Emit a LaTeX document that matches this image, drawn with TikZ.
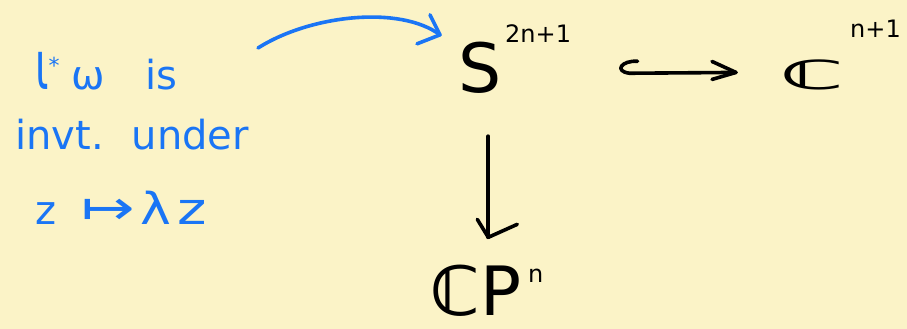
\documentclass[tikz,border=0pt]{standalone}
\usepackage{fontspec}
\usepackage{graphicx}
\setmainfont{DejaVu Sans}
\definecolor{paper}{RGB}{251,243,199}
\definecolor{ink}{RGB}{26,117,245}
\begin{document}
\begin{tikzpicture}[x=1pt,y=1pt,
  big/.style={font=\fontsize{68}{68}\selectfont, inner sep=0pt, anchor=base west},
  sup/.style={font=\fontsize{24}{24}\selectfont, inner sep=0pt, anchor=base west},
  note/.style={font=\fontsize{40}{40}\selectfont, text=ink, inner sep=0pt, anchor=base west},
  blk/.style={line width=3.6pt, line cap=round, line join=round},
  blu/.style={line width=3.6pt, draw=ink, line cap=round, line join=round}]
\fill[paper] (0,0) rectangle (907,329);
\useasboundingbox (0,0) rectangle (907,329);
% black diagram
\node[big] (S) at (458,236) {S};
\node[sup] (Ssup) at (505,286) {2n+1};
\node[big, font=\fontsize{50}{50}\selectfont\bfseries] (Cr) at (780,239) {\scalebox{1.75}[0.8]{ℂ}};
\node[sup] (Crsup) at (850,291) {n+1};
\node[big] (CP) at (430,13) {{\bfseries ℂ}P};
\node[sup] (CPsup) at (528,46) {n};
% blue note
\node[note] (t1) at (35,239) {\scalebox{1}[1.7]{ι}\raisebox{16pt}{\fontsize{22}{22}\selectfont *}\hspace{12pt}ω\hspace{40pt}is};
\node[note] (t2) at (15,179) {invt.\hspace{28pt}under};
\node[note] (t3) at (35,104) {z\hspace{25pt}\scalebox{1.6}[1.2]{↦}\hspace{6pt}\scalebox{1.3}[1.1]{λ}\hspace{6pt}\scalebox{1.4}[1.1]{z}};
% hook arrow S -> C^{n+1}
\coordinate (h0) at ([xshift=136pt,yshift=7pt]S.east);
\coordinate (h1) at ([xshift=-44pt,yshift=3pt]Cr.west);
\draw[blk] (h0) .. controls +(-16,1) and +(-16,2) .. ([xshift=-8pt,yshift=-12pt]h0) -- (h1);
\draw[blk] (h1) ++(-24,11) -- (h1) -- ++(-24,-7);
% down arrow S -> CP^n
\coordinate (d0) at ([xshift=8.5pt,yshift=-42pt]S.south);
\path (d0 |- CP.north) ++(0,28) coordinate (d1);
\draw[blk] (d0) -- (d1);
\draw[blk] (d1) ++(-11,18) -- (d1) -- ++(29,13);
% blue curved arrow note -> S
\coordinate (b0) at (258,281);
\coordinate (b1) at ([xshift=-18pt,yshift=7.5pt]S.north west);
\draw[blu] (b0) .. controls (310,314) and (400,324) .. (b1);
\draw[blu] (b1) ++(-10,20) -- (b1) -- ++(-23,-9);
\end{tikzpicture}
\end{document}
